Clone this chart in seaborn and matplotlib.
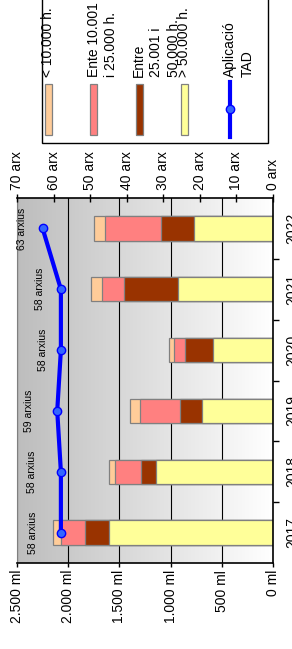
import numpy as np
import pandas as pd
import matplotlib
matplotlib.use("Agg")
import matplotlib.pyplot as plt
import seaborn as sns
from matplotlib.patches import Rectangle
from matplotlib.lines import Line2D
from matplotlib.colors import LinearSegmentedColormap

# ---------------- data ----------------
years = ["2017", "2018", "2019", "2020", "2021", "2022"]
over_50000 = [1605, 1143, 693, 590, 928, 775]
between_25001_50000 = [235, 146, 219, 273, 531, 319]
between_10001_25000 = [234, 251, 391, 108, 208, 550]
under_10000 = [78, 65, 97, 42, 107, 101]
tad_files = [58, 58, 59, 58, 58, 63]

ml_ticks = [0, 500, 1000, 1500, 2000, 2500]
ml_labels = ["0 ml", "500 ml", "1.000 ml", "1.500 ml", "2.000 ml", "2.500 ml"]
arx_ticks = [0, 10, 20, 30, 40, 50, 60, 70]
arx_labels = ["0 arx", "10 arx", "20 arx", "30 arx", "40 arx", "50 arx", "60 arx", "70 arx"]

series_names = ["< 10.000 h.", "Ente 10.001\ni 25.000 h.", "Entre\n25.001 i\n50.000 h.", "> 50.000 h."]
line_name = "Aplicació\nTAD"

# ---------------- style ----------------
colors = ["#FFCC99", "#FF8080", "#993300", "#FFFF99"]
line_color = "#0000FF"
label_offsets_px = [28, 29, 28, 18, 21, 21]

plt.rcParams["font.family"] = ["Liberation Sans", "DejaVu Sans"]
plt.rcParams["font.size"] = 10

W, H = 292, 649
fig = plt.figure(figsize=(W / 100, H / 100), dpi=100)
ax = fig.add_axes([17 / W, 1 - 563 / H, (273 - 17) / W, (563 - 198) / H])

df = pd.DataFrame({
    "year": years,
    "s4": over_50000,
    "s3": between_25001_50000,
    "s2": between_10001_25000,
    "s1": under_10000,
    "tad": tad_files,
})
df["c4"] = df["s4"]
df["c3"] = df["c4"] + df["s3"]
df["c2"] = df["c3"] + df["s2"]
df["c1"] = df["c2"] + df["s1"]

order = years[::-1]

# gradient background
cmap = LinearSegmentedColormap.from_list("bg", ["#FFFFFF", "#BDBDBD"])
ax.imshow(np.linspace(0, 1, 256)[None, :], extent=[0, 2500, 5.5, -0.5],
          cmap=cmap, aspect="auto", zorder=0, interpolation="bilinear")

for col, c in zip(["c1", "c2", "c3", "c4"], colors):
    sns.barplot(data=df, x=col, y="year", order=order, orient="h", color=c,
                saturation=1, width=0.4, edgecolor="#808080", linewidth=0.9,
                errorbar=None, ax=ax, zorder=2)

ax.set_xlim(2500, 0)
ax.set_ylim(5.5, -0.5)
ax.set_xlabel("")
ax.set_ylabel("")
ax.set_xticks(ml_ticks, ml_labels, rotation=90)
ax.xaxis.grid(True, color="black", linewidth=0.8)
ax.yaxis.grid(False)
ax.set_axisbelow(True)
ax.tick_params(axis="x", direction="out", length=3, width=1, pad=2, colors="black")

ax.yaxis.tick_right()
ax.set_yticks(range(len(order)), order, rotation=90, va="center")
ax.set_yticks([0.5, 1.5, 2.5, 3.5, 4.5], minor=True)
ax.tick_params(axis="y", which="major", length=0, pad=9)
ax.tick_params(axis="y", which="minor", length=4, width=1, direction="out")
for s in ["right", "bottom"]:
    ax.spines[s].set_color("black")
    ax.spines[s].set_linewidth(1.2)
ax.spines["left"].set_color("#808080")
ax.spines["top"].set_visible(False)

# secondary axis with line
ax2 = ax.twiny()
sns.pointplot(data=df, x="tad", y="year", order=order, orient="h", color=line_color,
              markers="o", errorbar=None, ax=ax2, linewidth=3, markersize=6,
              markerfacecolor="#3366FF", markeredgecolor=line_color, markeredgewidth=1)
ax2.set_xlim(70, 0)
ax2.set_ylim(5.5, -0.5)
ax2.set_xlabel("")
ax2.set_ylabel("")
ax2.set_xticks(arx_ticks, arx_labels, rotation=90)
ax2.tick_params(axis="x", direction="inout", length=6, width=1, pad=3)
ax2.xaxis.grid(False)
for s in ["left", "right", "bottom"]:
    ax2.spines[s].set_visible(False)
ax2.spines["top"].set_color("black")
ax2.spines["top"].set_linewidth(1.2)

for yr, v, off in zip(years, tad_files, label_offsets_px):
    ax2.annotate(f"{v} arxius", xy=(v, order.index(yr)), xytext=(-off * 0.72, 0),
                 textcoords="offset points", rotation=90, ha="center", va="center",
                 fontsize=7.5, family=["Liberation Sans Narrow", "Liberation Sans", "DejaVu Sans"])

# legend (drawn manually, rotated like the chart)
lax = fig.add_axes([0, 0, 1, 1], zorder=5)
lax.set_xlim(0, W)
lax.set_ylim(H, 0)
lax.axis("off")
lax.add_patch(Rectangle((42, -5), 226, 148, facecolor="white", edgecolor="black", lw=1))
key_x = [48, 93.5, 139, 184.5]
for xc, c, name in zip(key_x, colors, series_names):
    lax.add_patch(Rectangle((xc - 3.5, 84), 7, 51, facecolor=c, edgecolor="#808080", lw=0.9))
    lax.text(xc - 7, 77, name, rotation=90, rotation_mode="anchor", ha="left", va="top",
             fontsize=10, linespacing=1.3)
lax.add_line(Line2D([230, 230], [82, 137], color=line_color, lw=3))
lax.add_line(Line2D([230], [109], marker="o", markersize=6, markerfacecolor="#3366FF",
                    markeredgecolor=line_color, markeredgewidth=1))
lax.text(230 - 7, 77, line_name, rotation=90, rotation_mode="anchor", ha="left", va="top",
         fontsize=10, linespacing=1.3)

fig.savefig("out.png", dpi=100)
